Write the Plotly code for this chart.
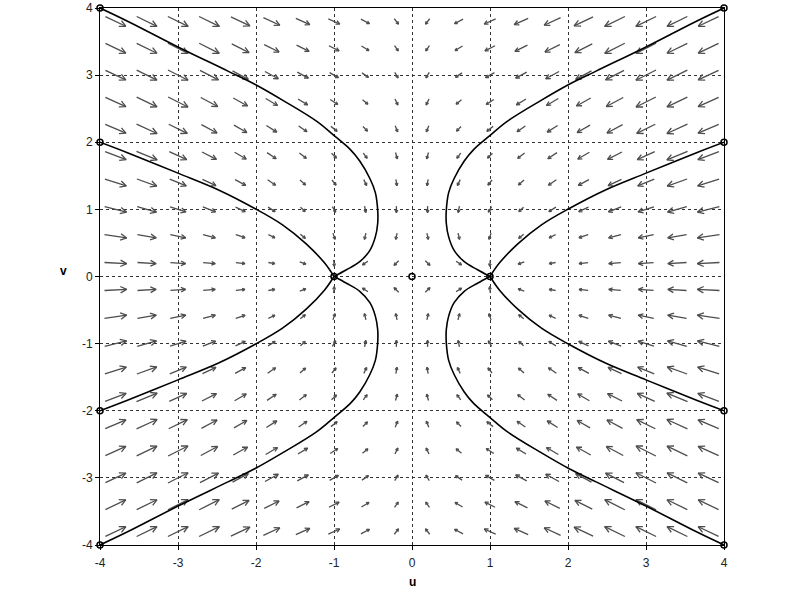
import numpy as np
import plotly.graph_objects as go

# arrow grid centres (same for u and v)
grid_pts = [-3.8, -3.4, -3.0, -2.6, -2.2, -1.8, -1.4, -1.0, -0.6, -0.2,
            0.2, 0.6, 1.0, 1.4, 1.8, 2.2, 2.6, 3.0, 3.4, 3.8]

# trajectory from (-4, 4)
traj_a_u = [-4.0, -3.64, -3.0, -2.36, -2.01, -1.65, -1.22, -0.99, -0.79, -0.67,
            -0.54, -0.47, -0.44, -0.44, -0.47, -0.54, -0.67, -0.84, -1.0]
traj_a_v = [4.0, 3.80, 3.42, 3.06, 2.86, 2.62, 2.31, 2.09, 1.89, 1.72,
            1.46, 1.25, 0.99, 0.79, 0.59, 0.39, 0.22, 0.10, 0.0]

# trajectory from (-4, 2)
traj_b_u = [-4.0, -3.64, -3.0, -2.48, -2.01, -1.66, -1.36, -1.12, -1.0]
traj_b_v = [2.0, 1.84, 1.54, 1.29, 1.01, 0.77, 0.49, 0.20, 0.0]

# start points / equilibria marked with circles
mark_u = [-4, -4, -4, -4, 4, 4, 4, 4, 0, -1, 1]
mark_v = [4, 2, -2, -4, 4, 2, -2, -4, 0, 0, 0]

ticks = [-4, -3, -2, -1, 0, 1, 2, 3, 4]
tick_labels = ["-4", "-3", "-2", "-1", "0", "1", "2", "3", "4"]


def field(u, v):
    # du/dt, dv/dt of the plotted system
    return u - u**3 - u * v**2, -v - u**2 * v


W, H = 793, 610
L, R, T, B = 100, 69, 8, 65
sx = (W - L - R) / 8.0
sy = (H - T - B) / 8.0

ax, ay = [], []
for u in grid_pts:
    for v in grid_pts:
        fu, fv = field(u, v)
        px, py = fu * sx, fv * sy
        n = np.hypot(px, py)
        m = np.hypot(fu, fv)
        if n == 0:
            continue
        ln = float(np.clip(3.1 * np.sqrt(m), 6.5, 22.5))
        cx, cy = px / n, py / n
        x0, y0 = u - cx * ln / 2 / sx, v - cy * ln / 2 / sy
        x1, y1 = u + cx * ln / 2 / sx, v + cy * ln / 2 / sy
        h = float(np.clip(0.34 * ln, 3.0, 7.0))
        a = np.radians(27)
        hx = []
        for s in (1, -1):
            bx = -cx * np.cos(a) + s * cy * np.sin(a)
            by = -cy * np.cos(a) - s * cx * np.sin(a)
            hx.append((x1 + bx * h / sx, y1 + by * h / sy))
        ax += [x0, x1, None, hx[0][0], x1, hx[1][0], None]
        ay += [y0, y1, None, hx[0][1], y1, hx[1][1], None]

fig = go.Figure()
fig.add_trace(go.Scatter(x=ax, y=ay, mode="lines",
                         line=dict(color="#4d4d4d", width=1.3),
                         hoverinfo="skip", showlegend=False))

for su in (1, -1):
    for sv in (1, -1):
        for tu, tv in ((traj_a_u, traj_a_v), (traj_b_u, traj_b_v)):
            fig.add_trace(go.Scatter(x=[su * x for x in tu], y=[sv * y for y in tv],
                                     mode="lines", line=dict(color="black", width=1.6, shape="spline"),
                                     showlegend=False, cliponaxis=False))

fig.add_trace(go.Scatter(x=mark_u, y=mark_v, mode="markers",
                         marker=dict(symbol="circle-open", size=6, color="black",
                                     line=dict(width=1.5)),
                         showlegend=False, cliponaxis=False))

axis_style = dict(range=[-4, 4], tickvals=ticks, ticktext=tick_labels,
                  ticks="outside", ticklen=4,
                  tickcolor="black", showline=True, linecolor="black", linewidth=1,
                  mirror=True, showgrid=True, gridcolor="#333333", griddash="dot",
                  gridwidth=1, zeroline=False, automargin=False,
                  tickfont=dict(family="Liberation Sans", size=12, color="#222222"))

fig.update_layout(
    width=W, height=H, margin=dict(l=L, r=R, t=T, b=B),
    plot_bgcolor="white", paper_bgcolor="white",
    xaxis=dict(axis_style, ticklabelstandoff=3), yaxis=axis_style,
    annotations=[
        dict(text="<b>u</b>", x=0.5, y=0, xref="paper", yref="paper", yshift=-37,
             xanchor="center", yanchor="middle", showarrow=False,
             font=dict(family="Liberation Sans", size=12, color="black")),
        dict(text="<b>v</b>", x=0, y=0.5, xref="paper", yref="paper", xshift=-37, yshift=6,
             xanchor="center", yanchor="middle", showarrow=False,
             font=dict(family="Liberation Sans", size=12, color="black")),
    ],
)

fig.write_html("out.html", config={"displayModeBar": False},
               post_script="document.body.style.margin='0';")
